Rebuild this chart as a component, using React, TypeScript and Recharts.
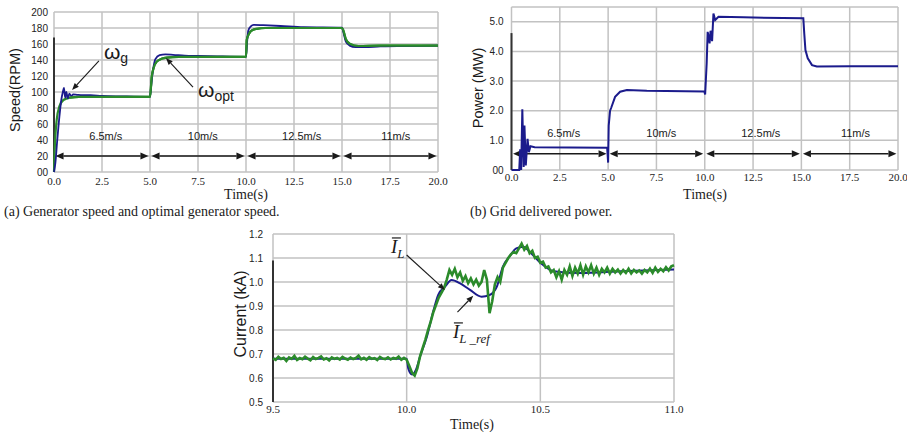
import React from "react";
import {
  LineChart,
  Line,
  XAxis,
  YAxis,
  CartesianGrid,
  ReferenceLine,
  ReferenceDot,
} from "recharts";

const SANS = '"Liberation Sans", Arial, sans-serif';
const SERIF = '"Liberation Serif", "Times New Roman", serif';
const BLUE = "#1b1b8c";
const GREEN = "#2b8b2b";
const GRID = "#c2c2c2";
const INK = "#1a1a1a";

// (a) generator speed (blue) and optimal speed (green), RPM
const gTime = [0, 0.07, 0.17, 0.28, 0.38, 0.46, 0.52, 0.58, 0.64, 0.72, 0.8, 0.9, 1.0, 1.2, 1.5, 1.9, 2.5, 3.5, 5.0, 5.05, 5.15, 5.28, 5.5, 5.8, 6.2, 6.8, 7.5, 8.5, 10.0, 10.05, 10.12, 10.25, 10.4, 10.9, 11.8, 13.0, 15.0, 15.07, 15.2, 15.4, 15.7, 16.2, 17.0, 20.0];
const gSpeed = [0, 11, 40, 69, 90, 100, 105, 93, 100, 92, 98, 95, 97, 96.5, 96, 96, 95, 94.5, 94, 105, 126, 141, 146, 147, 146.5, 145.5, 145, 144.5, 144, 160, 177, 182, 184, 183.5, 182.5, 181, 180.5, 175, 163, 158, 156, 156, 157, 158];
const optTime = [0, 0.03, 0.14, 0.28, 0.49, 0.83, 1.3, 2.5, 5.0, 5.09, 5.2, 5.35, 5.6, 5.87, 6.5, 8, 10.0, 10.04, 10.12, 10.21, 10.35, 10.56, 11, 12, 15.0, 15.07, 15.2, 15.42, 15.85, 17, 20];
const optSpeed = [0, 24, 65, 82, 90, 93, 94, 94, 94, 119, 131, 138, 141.5, 143, 144, 144, 144, 165, 171, 175, 177.5, 179, 180, 180, 180, 177, 166, 160, 157.5, 158, 158];
const speedTicks = [0, 20, 40, 60, 80, 100, 120, 140, 160, 180, 200];
const timeTicks = [0, 2.5, 5, 7.5, 10, 12.5, 15, 17.5, 20];

// wind speed steps
const windLabels = ["6.5m/s", "10m/s", "12.5m/s", "11m/s"];
const windStart = [0, 5, 10, 15];
const windEnd = [5, 10, 15, 20];
const windLabelAt = [2.7, 7.75, 12.9, 17.8];

// (b) grid delivered power, MW
const pTime = [0, 0.4, 0.45, 0.5, 0.56, 0.63, 0.67, 0.74, 0.83, 0.9, 0.98, 1.2, 3.0, 4.95, 5.0, 5.03, 5.1, 5.16, 5.36, 5.62, 5.97, 7.0, 9.98, 10.02, 10.1, 10.15, 10.2, 10.25, 10.3, 10.38, 10.45, 10.54, 10.71, 12.0, 15.1, 15.15, 15.21, 15.33, 15.55, 15.8, 17.5, 20];
const pValue = [0, 0, 0.7, 0, 2.05, 0.1, 1.5, 0.15, 1.05, 0.6, 0.8, 0.77, 0.76, 0.75, 0.25, 1.5, 2.0, 2.1, 2.47, 2.64, 2.7, 2.67, 2.65, 2.55, 3.6, 4.66, 4.5, 4.27, 4.7, 4.35, 5.28, 5.06, 5.17, 5.15, 5.12, 4.6, 4.05, 3.77, 3.54, 3.49, 3.5, 3.5];
const powerTicks = [0, 1, 2, 3, 4, 5, 5.5];

// (c) load current, kA; measured signal sampled every 10 ms from 9.5 s
const iL = [
  0.682, 0.676, 0.688, 0.679, 0.684, 0.671, 0.686, 0.680, 0.692, 0.675,
  0.683, 0.678, 0.689, 0.681, 0.674, 0.687, 0.679, 0.684, 0.690, 0.677,
  0.682, 0.673, 0.686, 0.680, 0.684, 0.677, 0.688, 0.681, 0.676, 0.685,
  0.679, 0.683, 0.693, 0.678, 0.684, 0.676, 0.687, 0.680, 0.683, 0.675,
  0.688, 0.681, 0.679, 0.686, 0.677, 0.684, 0.680, 0.689, 0.676, 0.684,
  0.676, 0.650, 0.622, 0.610, 0.640, 0.690, 0.725, 0.760, 0.800, 0.835,
  0.875, 0.905, 0.935, 0.955, 0.975, 1.010, 1.050, 1.030, 1.055, 1.020,
  1.040, 1.005, 1.025, 0.995, 1.015, 0.990, 1.010, 0.985, 1.000, 1.050,
  1.010, 0.870, 0.920, 0.990, 1.020, 1.000, 1.060, 1.080, 1.100, 1.115,
  1.125, 1.120, 1.140, 1.160, 1.135, 1.150, 1.120, 1.130, 1.100, 1.105,
  1.080, 1.085, 1.060, 1.065, 1.040, 1.050, 1.020, 1.045, 1.010, 1.050,
  1.030, 1.065, 1.025, 1.060, 1.035, 1.070, 1.030, 1.065, 1.040, 1.070,
  1.035, 1.060, 1.030, 1.055, 1.040, 1.060, 1.035, 1.055, 1.040, 1.052,
  1.035, 1.050, 1.038, 1.055, 1.036, 1.050, 1.040, 1.048, 1.035, 1.050,
  1.040, 1.056, 1.038, 1.060, 1.042, 1.055, 1.045, 1.062, 1.048, 1.065,
  1.070,
];
const refTime = [9.5, 10.0, 10.006, 10.02, 10.035, 10.05, 10.075, 10.1, 10.118, 10.143, 10.168, 10.2, 10.237, 10.28, 10.31, 10.337, 10.36, 10.387, 10.41, 10.436, 10.46, 10.5, 10.55, 10.65, 10.8, 11.0];
const refValue = [0.68, 0.68, 0.64, 0.615, 0.635, 0.689, 0.77, 0.88, 0.946, 0.98, 1.008, 0.994, 0.967, 0.939, 0.946, 0.98, 1.064, 1.11, 1.14, 1.147, 1.126, 1.08, 1.045, 1.037, 1.045, 1.052];
const currentTicks = [0.5, 0.6, 0.7, 0.8, 0.9, 1.0, 1.1, 1.2];
const zoomTicks = [9.5, 10.0, 10.5, 11.0];

const gData = gTime.map((t, i) => ({ t, v: gSpeed[i] }));
const optData = optTime.map((t, i) => ({ t, v: optSpeed[i] }));
const pData = pTime.map((t, i) => ({ t, v: pValue[i] }));
const iLData = iL.map((v, i) => ({ t: Math.round((9.5 + i * 0.01) * 100) / 100, v }));
const refData = refTime.map((t, i) => ({ t, v: refValue[i] }));

// double-headed arrow spanning one wind step
function DoubleArrow(p: any) {
  const { x1, y1, x2, y2 } = p;
  const h = 8;
  const w = 3.5;
  return (
    <g>
      <line x1={x1 + h} y1={y1} x2={x2 - h} y2={y2} stroke={INK} strokeWidth={1.6} />
      <polygon points={`${x1},${y1} ${x1 + h},${y1 - w} ${x1 + h},${y1 + w}`} fill={INK} />
      <polygon points={`${x2},${y2} ${x2 - h},${y2 - w} ${x2 - h},${y2 + w}`} fill={INK} />
    </g>
  );
}

// thin arrow with its head on the second point
function Pointer(p: any) {
  const { x1, y1, x2, y2 } = p;
  const dx = x2 - x1;
  const dy = y2 - y1;
  const len = Math.hypot(dx, dy) || 1;
  const ux = dx / len;
  const uy = dy / len;
  const h = 7;
  const w = 2.8;
  const bx = x2 - ux * h;
  const by = y2 - uy * h;
  return (
    <g>
      <line x1={x1} y1={y1} x2={bx} y2={by} stroke={INK} strokeWidth={1.1} />
      <polygon
        points={`${x2},${y2} ${bx - uy * w},${by + ux * w} ${bx + uy * w},${by - ux * w}`}
        fill={INK}
      />
    </g>
  );
}

const windText = (label: string) => (p: any) => (
  <text x={p.cx} y={p.cy} textAnchor="middle" dominantBaseline="central" fontFamily={SANS} fontSize={11} fill={INK}>
    {label}
  </text>
);

const omegaText = (sub: string) => (p: any) => (
  <text x={p.cx} y={p.cy} fontFamily={SANS} fill={INK}>
    <tspan fontSize={21}>ω</tspan>
    <tspan fontSize={14} dy={4}>{sub}</tspan>
  </text>
);

const currentText = (sub: string) => (p: any) => (
  <g>
    <line x1={p.cx + 1} y1={p.cy - 15} x2={p.cx + 10} y2={p.cy - 15} stroke={INK} strokeWidth={1.2} />
    <text x={p.cx} y={p.cy} fontFamily={SERIF} fontStyle="italic" fill={INK}>
      <tspan fontSize={19}>I</tspan>
      <tspan fontSize={13} dy={5}>{sub}</tspan>
    </text>
  </g>
);

const sansTick = { fontFamily: SANS, fontSize: 10, fill: "#222" };
const serifTick = { fontFamily: SERIF, fontSize: 11, fill: "#222" };

function Caption({ x, y, text, size = 14, font = SERIF, rotate = false, left = false }: any) {
  return (
    <div
      style={{
        position: "absolute",
        left: x,
        top: y,
        transform: `${left ? "translate(0,-50%)" : "translate(-50%,-50%)"}${rotate ? " rotate(-90deg)" : ""}`,
        fontFamily: font,
        fontSize: size,
        lineHeight: 1,
        whiteSpace: "nowrap",
        color: INK,
      }}
    >
      {text}
    </div>
  );
}

function SpeedChart() {
  return (
    <LineChart width={460} height={200} margin={{ top: 12, right: 22, bottom: 0, left: 0 }}>
      <CartesianGrid stroke={GRID} strokeWidth={1.5} />
      <XAxis
        dataKey="t"
        type="number"
        domain={[0, 20]}
        ticks={timeTicks}
        interval={0}
        height={28}
        axisLine={false}
        tickLine={false}
        tickSize={0}
        tickMargin={5}
        tick={serifTick}
        tickFormatter={(v: number) => v.toFixed(1)}
      />
      <YAxis
        type="number"
        domain={[0, 200]}
        ticks={speedTicks}
        interval={0}
        width={54}
        axisLine={false}
        tickLine={false}
        tickSize={4}
        tickMargin={2}
        tick={sansTick}
        tickFormatter={(v: number) => (v === 0 ? "00" : String(v))}
      />
      <ReferenceLine segment={[{ x: 0, y: 0 }, { x: 0, y: 168 }]} stroke="#333" strokeWidth={2} />
      {windStart.map((s, i) => (
        <ReferenceLine
          key={"wa" + i}
          segment={[{ x: s + 0.08, y: 20 }, { x: windEnd[i] - 0.08, y: 20 }]}
          shape={DoubleArrow}
        />
      ))}
      {windLabels.map((l, i) => (
        <ReferenceDot key={"wl" + i} x={windLabelAt[i]} y={45} r={0} shape={windText(l)} />
      ))}
      <Line data={optData} dataKey="v" type="monotone" stroke={GREEN} strokeWidth={2.2} dot={false} isAnimationActive={false} />
      <Line data={gData} dataKey="v" type="monotone" stroke={BLUE} strokeWidth={1.8} dot={false} isAnimationActive={false} />
      {/* green redrawn on top along the flat stretches */}
      <Line data={optData.filter((d) => d.t >= 0.8)} dataKey="v" type="monotone" stroke={GREEN} strokeWidth={2.2} dot={false} isAnimationActive={false} />
      <ReferenceLine segment={[{ x: 2.34, y: 139 }, { x: 0.94, y: 102.5 }]} shape={Pointer} />
      <ReferenceLine segment={[{ x: 7.24, y: 106 }, { x: 5.83, y: 142.5 }]} shape={Pointer} />
      <ReferenceDot x={2.6} y={141} r={0} shape={omegaText("g")} />
      <ReferenceDot x={7.5} y={94} r={0} shape={omegaText("opt")} />
    </LineChart>
  );
}

function PowerChart() {
  return (
    <LineChart width={447} height={200} margin={{ top: 7, right: 9, bottom: 0, left: 0 }}>
      <CartesianGrid stroke={GRID} strokeWidth={1.5} />
      <XAxis
        dataKey="t"
        type="number"
        domain={[0, 20]}
        ticks={timeTicks}
        interval={0}
        height={30}
        axisLine={false}
        tickLine={false}
        tickSize={0}
        tickMargin={3}
        tick={serifTick}
        tickFormatter={(v: number) => v.toFixed(1)}
      />
      <YAxis
        type="number"
        domain={[0, 5.5]}
        ticks={powerTicks}
        interval={0}
        width={51.5}
        axisLine={false}
        tickLine={false}
        tickSize={6}
        tickMargin={2}
        tick={sansTick}
        tickFormatter={(v: number) => (v === 0 ? "00" : v === 5.5 ? "" : v.toFixed(1))}
      />
      <ReferenceLine segment={[{ x: 0, y: 0 }, { x: 0, y: 4.62 }]} stroke="#333" strokeWidth={2} />
      {windStart.map((s, i) => (
        <ReferenceLine
          key={"pa" + i}
          segment={[{ x: s + 0.08, y: 0.55 }, { x: windEnd[i] - 0.08, y: 0.55 }]}
          shape={DoubleArrow}
        />
      ))}
      {windLabels.map((l, i) => (
        <ReferenceDot key={"pl" + i} x={windLabelAt[i]} y={1.25} r={0} shape={windText(l)} />
      ))}
      <Line data={pData} dataKey="v" type="linear" stroke={BLUE} strokeWidth={2} dot={false} isAnimationActive={false} />
    </LineChart>
  );
}

function CurrentChart() {
  return (
    <LineChart width={470} height={207} margin={{ top: 9, right: 16, bottom: 0, left: 0 }}>
      <CartesianGrid stroke={GRID} strokeWidth={1.5} />
      <XAxis
        dataKey="t"
        type="number"
        domain={[9.5, 11]}
        ticks={zoomTicks}
        interval={0}
        height={30}
        axisLine={false}
        tickLine={false}
        tickSize={0}
        tickMargin={3}
        tick={serifTick}
        tickFormatter={(v: number) => v.toFixed(1)}
      />
      <YAxis
        type="number"
        domain={[0.5, 1.2]}
        ticks={currentTicks}
        interval={0}
        width={53}
        axisLine={false}
        tickLine={false}
        tickSize={8}
        tickMargin={2}
        tick={sansTick}
        tickFormatter={(v: number) => v.toFixed(1)}
      />
      <ReferenceLine segment={[{ x: 9.5, y: 0.5 }, { x: 9.5, y: 1.09 }]} stroke="#333" strokeWidth={2} />
      <Line data={refData} dataKey="v" type="monotone" stroke={BLUE} strokeWidth={2} dot={false} isAnimationActive={false} />
      <Line data={iLData} dataKey="v" type="linear" stroke={GREEN} strokeWidth={2.6} dot={false} isAnimationActive={false} />
      <ReferenceLine segment={[{ x: 10.0, y: 1.1125 }, { x: 10.143, y: 0.967 }]} shape={Pointer} />
      <ReferenceLine segment={[{ x: 10.19, y: 0.874 }, { x: 10.249, y: 0.943 }]} shape={Pointer} />
      <ReferenceDot x={9.941} y={1.121} r={0} shape={currentText("L")} />
      <ReferenceDot x={10.173} y={0.767} r={0} shape={currentText("L _ref")} />
    </LineChart>
  );
}

export default function App() {
  return (
    <div style={{ position: "absolute", left: 0, top: 0, width: 907, height: 432, background: "#fff" }}>
      <div style={{ position: "absolute", left: 0, top: 0 }}>
        <SpeedChart />
      </div>
      <div style={{ position: "absolute", left: 460, top: 0 }}>
        <PowerChart />
      </div>
      <div style={{ position: "absolute", left: 220, top: 225 }}>
        <CurrentChart />
      </div>
      <Caption x={15} y={90} text="Speed(RPM)" size={14.5} font={SANS} rotate />
      <Caption x={246} y={195} text="Time(s)" />
      <Caption x={4} y={212} text="(a) Generator speed and optimal generator speed." left />
      <Caption x={478} y={88} text="Power (MW)" size={14.5} font={SANS} rotate />
      <Caption x={705} y={195} text="Time(s)" />
      <Caption x={470} y={212} text="(b) Grid delivered power." left />
      <Caption x={241} y={314} text="Current (kA)" size={16} font={SANS} rotate />
      <Caption x={472} y={425} text="Time(s)" />
    </div>
  );
}
